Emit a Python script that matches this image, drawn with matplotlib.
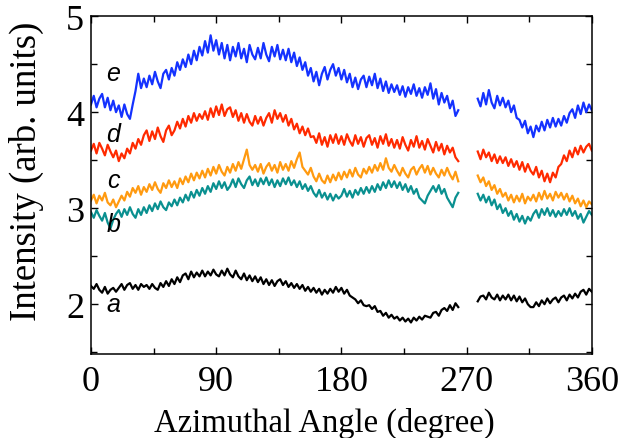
import numpy as np
import matplotlib
matplotlib.use('Agg')
import matplotlib.pyplot as plt
from matplotlib.ticker import MultipleLocator

# angles (degree): two measured ranges, gap between them
ang1 = np.arange(0, 265, 2)
ang2 = np.arange(278, 361, 2)

# e (blue)
e1 = [4.08, 4.17, 4.05, 4.14, 4.19, 4.05, 4.15, 4.02, 4.12, 4.00,
      4.07, 3.95, 4.08, 3.98, 3.93, 4.08, 4.22, 4.40, 4.25, 4.35,
      4.26, 4.38, 4.29, 4.42, 4.32, 4.25, 4.40, 4.44, 4.34, 4.46,
      4.38, 4.52, 4.44, 4.55, 4.47, 4.60, 4.50, 4.64, 4.54, 4.68,
      4.59, 4.74, 4.62, 4.80, 4.64, 4.75, 4.60, 4.72, 4.56, 4.70,
      4.54, 4.68, 4.58, 4.72, 4.56, 4.66, 4.52, 4.70, 4.60, 4.55,
      4.67, 4.56, 4.72, 4.60, 4.53, 4.68, 4.58, 4.70, 4.55, 4.65,
      4.54, 4.66, 4.52, 4.62, 4.48, 4.57, 4.44, 4.52, 4.38, 4.46,
      4.32, 4.42, 4.28, 4.40, 4.47, 4.34, 4.44, 4.50, 4.38, 4.46,
      4.34, 4.44, 4.31, 4.40, 4.26, 4.36, 4.24, 4.34, 4.38, 4.26,
      4.37, 4.28, 4.40, 4.25, 4.35, 4.22, 4.32, 4.20, 4.29, 4.21,
      4.28, 4.18, 4.27, 4.16, 4.26, 4.19, 4.29, 4.17, 4.25, 4.15,
      4.26, 4.18, 4.30, 4.14, 4.24, 4.08, 4.20, 4.10, 4.17, 4.04,
      4.12, 3.96, 4.02]
e2 = [4.14, 4.06, 4.20, 4.08, 4.23, 4.10, 4.04, 4.17, 4.07, 4.15,
      4.05, 4.12, 4.00, 4.07, 3.94, 3.92, 3.84, 3.91, 3.78, 3.85,
      3.74, 3.86, 3.80, 3.90, 3.81, 3.92, 3.84, 3.94, 3.85, 3.93,
      3.86, 3.96, 3.89, 3.99, 4.03, 3.94, 4.07, 3.98, 4.10, 4.00,
      4.08, 4.02]

# d (red)
d1 = [3.60, 3.67, 3.57, 3.68, 3.62, 3.55, 3.66, 3.59, 3.53, 3.60,
      3.49, 3.57, 3.52, 3.62, 3.57, 3.68, 3.62, 3.72, 3.66, 3.76,
      3.81, 3.70, 3.80, 3.72, 3.84, 3.75, 3.69, 3.81, 3.86, 3.76,
      3.81, 3.90, 3.83, 3.93, 3.85, 3.96, 3.89, 3.99, 3.91, 3.98,
      3.93, 4.01, 3.92, 4.04, 3.95, 4.06, 3.97, 4.08, 3.96, 4.03,
      4.05, 3.95, 4.02, 3.91, 3.99, 3.89, 3.98, 3.90, 3.86, 3.96,
      3.88, 3.95, 3.86, 3.94, 3.99, 3.89, 4.02, 3.93, 3.99, 3.90,
      3.97, 3.86, 3.93, 3.82, 3.88, 3.78, 3.85, 3.76, 3.83, 3.74,
      3.75, 3.68, 3.78, 3.66, 3.74, 3.64, 3.76, 3.68, 3.77, 3.67,
      3.75, 3.66, 3.77, 3.70, 3.65, 3.76, 3.67, 3.74, 3.64, 3.73,
      3.76, 3.66, 3.73, 3.63, 3.75, 3.67, 3.77, 3.65, 3.72, 3.63,
      3.71, 3.62, 3.74, 3.66, 3.60, 3.71, 3.64, 3.75, 3.63, 3.70,
      3.61, 3.72, 3.65, 3.58, 3.69, 3.60, 3.67, 3.56, 3.65, 3.58,
      3.63, 3.53, 3.49]
d2 = [3.59, 3.51, 3.61, 3.53, 3.58, 3.49, 3.56, 3.47, 3.54, 3.47,
      3.53, 3.44, 3.51, 3.43, 3.49, 3.40, 3.48, 3.38, 3.46, 3.39,
      3.35, 3.43, 3.32, 3.39, 3.28, 3.36, 3.27, 3.37, 3.32, 3.43,
      3.46, 3.55, 3.49, 3.60, 3.53, 3.63, 3.56, 3.65, 3.58, 3.64,
      3.67, 3.60]

# c (orange)
c1 = [3.08, 3.14, 3.05, 3.13, 3.08, 3.16, 3.06, 3.03, 3.09, 3.01,
      3.07, 3.13, 3.08, 3.17, 3.12, 3.21, 3.16, 3.23, 3.14, 3.22,
      3.17, 3.25, 3.19, 3.27, 3.20, 3.16, 3.26, 3.21, 3.29, 3.22,
      3.28, 3.21, 3.31, 3.25, 3.33, 3.27, 3.36, 3.29, 3.37, 3.31,
      3.39, 3.32, 3.41, 3.34, 3.43, 3.36, 3.45, 3.38, 3.34, 3.43,
      3.37, 3.46, 3.39, 3.48, 3.41, 3.51, 3.61, 3.45, 3.40, 3.45,
      3.38, 3.46, 3.36, 3.43, 3.47, 3.39, 3.45, 3.37, 3.48, 3.40,
      3.46, 3.39, 3.49, 3.42, 3.51, 3.58, 3.43, 3.39, 3.35, 3.42,
      3.33, 3.28, 3.36, 3.29, 3.26, 3.34, 3.27, 3.35, 3.29, 3.37,
      3.30, 3.38, 3.32, 3.40, 3.33, 3.42, 3.35, 3.32, 3.41, 3.36,
      3.43, 3.37, 3.45, 3.39, 3.47, 3.40, 3.52, 3.42, 3.38, 3.45,
      3.39, 3.34, 3.42, 3.36, 3.32, 3.40, 3.43, 3.35, 3.41, 3.45,
      3.37, 3.44, 3.35, 3.42, 3.36, 3.32, 3.40, 3.34, 3.42, 3.35,
      3.30, 3.38, 3.28]
c2 = [3.34, 3.27, 3.32, 3.23, 3.28, 3.19, 3.24, 3.15, 3.20, 3.12,
      3.16, 3.08, 3.14, 3.06, 3.13, 3.07, 3.15, 3.05, 3.12, 3.08,
      3.14, 3.07, 3.16, 3.09, 3.18, 3.10, 3.15, 3.08, 3.17, 3.11,
      3.16, 3.09, 3.15, 3.07, 3.13, 3.05, 3.10, 3.02, 3.08, 3.01,
      3.07, 3.04]

# b (teal)
b1 = [2.96, 2.90, 2.98, 2.92, 2.87, 2.95, 2.85, 2.79, 2.88, 2.94,
      2.98, 2.91, 2.99, 2.93, 3.01, 2.94, 2.90, 2.99, 2.93, 3.01,
      2.95, 3.03, 2.97, 3.05, 2.99, 3.07, 3.01, 2.98, 3.06, 3.02,
      3.09, 3.03, 3.11, 3.06, 3.14, 3.08, 3.17, 3.11, 3.19, 3.13,
      3.21, 3.15, 3.23, 3.17, 3.26, 3.20, 3.28, 3.21, 3.27, 3.19,
      3.23, 3.30, 3.22, 3.31, 3.25, 3.21, 3.29, 3.33, 3.24, 3.30,
      3.23, 3.31, 3.25, 3.32, 3.24, 3.30, 3.22, 3.29, 3.23, 3.31,
      3.25, 3.32, 3.24, 3.29, 3.22, 3.28, 3.20, 3.25, 3.18, 3.23,
      3.16, 3.12, 3.19, 3.11, 3.16, 3.09, 3.15, 3.08, 3.14, 3.10,
      3.13, 3.20, 3.12, 3.18, 3.11, 3.19, 3.14, 3.21, 3.15, 3.22,
      3.16, 3.23, 3.17, 3.25, 3.19, 3.27, 3.21, 3.29, 3.22, 3.28,
      3.21, 3.27, 3.19, 3.25, 3.17, 3.23, 3.15, 3.20, 3.11, 3.08,
      3.05, 3.13, 3.18, 3.23, 3.17, 3.24, 3.15, 3.20, 3.11, 3.06,
      3.01, 3.11, 3.16]
b2 = [3.15, 3.08, 3.14, 3.06, 3.12, 3.03, 3.09, 2.99, 3.04, 2.95,
      3.00, 2.92, 2.97, 2.88, 2.94, 2.86, 2.92, 2.84, 2.91, 2.87,
      2.94, 2.98, 2.90, 2.99, 2.93, 3.00, 2.92, 2.98, 2.91, 2.97,
      2.92, 2.99, 2.93, 3.00, 2.92, 2.97, 2.89, 2.94, 2.85, 2.91,
      2.97, 2.93]

# a (black)
a1 = [2.19, 2.16, 2.21, 2.15, 2.12, 2.18, 2.11, 2.15, 2.17, 2.13,
      2.17, 2.21, 2.15, 2.20, 2.22, 2.16, 2.20, 2.15, 2.21, 2.18,
      2.20, 2.16, 2.21, 2.17, 2.15, 2.22, 2.18, 2.24, 2.19, 2.26,
      2.21, 2.28, 2.23, 2.30, 2.32, 2.26, 2.34, 2.28, 2.33, 2.29,
      2.35, 2.29, 2.34, 2.30, 2.36, 2.31, 2.29, 2.35, 2.30, 2.37,
      2.31, 2.28, 2.35, 2.29, 2.26, 2.32, 2.25, 2.30, 2.24, 2.29,
      2.23, 2.28, 2.21, 2.26, 2.20, 2.25, 2.19, 2.24, 2.26, 2.20,
      2.24, 2.18, 2.22, 2.17, 2.21, 2.16, 2.20, 2.14, 2.18, 2.13,
      2.17, 2.12, 2.16, 2.10, 2.15, 2.11, 2.16, 2.12, 2.18, 2.13,
      2.17, 2.11, 2.15, 2.09, 2.07, 2.05, 2.01, 2.04, 1.99, 1.98,
      1.99, 1.95, 1.98, 1.92, 1.93, 1.88, 1.91, 1.86, 1.89, 1.85,
      1.87, 1.83, 1.86, 1.82, 1.85, 1.81, 1.86, 1.83, 1.87, 1.84,
      1.88, 1.87, 1.86, 1.91, 1.92, 1.88, 1.94, 1.96, 1.93, 1.99,
      1.94, 2.01, 1.97]
a2 = [2.03, 2.08, 2.09, 2.05, 2.12, 2.07, 2.05, 2.10, 2.04, 2.09,
      2.05, 2.10, 2.04, 2.09, 2.03, 2.08, 2.02, 2.06, 2.00, 1.97,
      1.97, 2.02, 1.98, 2.04, 2.00, 2.06, 2.01, 2.05, 2.07, 2.02,
      2.07, 2.09, 2.04, 2.10, 2.06, 2.11, 2.07, 2.13, 2.15, 2.10,
      2.16, 2.13]

series = [
    ('a', a1, a2, 'black', 2.0),
    ('b', b1, b2, '#0A9090', 2.84),
    ('c', c1, c2, '#FF9A10', 3.29),
    ('d', d1, d2, '#FF2A00', 3.77),
    ('e', e1, e2, '#1432FF', 4.41),
]

fig = plt.figure(figsize=(6.21, 4.39), dpi=100)
ax = fig.add_axes([0.1465, 0.191, 0.8065, 0.770])

for name, s1, s2, col, ylab in series:
    ax.plot(ang1, s1, color=col, lw=1.6)
    ax.plot(ang2, s2, color=col, lw=1.6)
    ax.text(16, ylab, name, fontsize=18, style='italic',
            family='Liberation Sans', ha='center', va='center')

ax.set_xlim(0, 360)
ax.set_ylim(1.48, 5.0)
ax.xaxis.set_major_locator(MultipleLocator(90))
ax.xaxis.set_minor_locator(MultipleLocator(45))
ax.yaxis.set_major_locator(MultipleLocator(1))
ax.yaxis.set_minor_locator(MultipleLocator(0.5))
ax.tick_params(which='both', direction='in', top=True, right=True, width=1)
ax.tick_params(which='major', length=5, labelsize=26)
ax.tick_params(axis='x', which='major', pad=8)
ax.tick_params(axis='y', which='major', pad=5)
ax.tick_params(which='minor', length=4)
for t in ax.get_xticklabels() + ax.get_yticklabels():
    t.set_family('Liberation Serif')
for sp in ax.spines.values():
    sp.set_linewidth(1.1)

ax.set_xlabel('Azimuthal Angle (degree)', family='Liberation Serif', fontsize=23.5)
ax.set_ylabel('Intensity (arb. units)', family='Liberation Serif', fontsize=26.5)
ax.xaxis.set_label_coords(0.465, -0.155)
ax.yaxis.set_label_coords(-0.094, 0.545)

fig.savefig('out.png', dpi=100)
